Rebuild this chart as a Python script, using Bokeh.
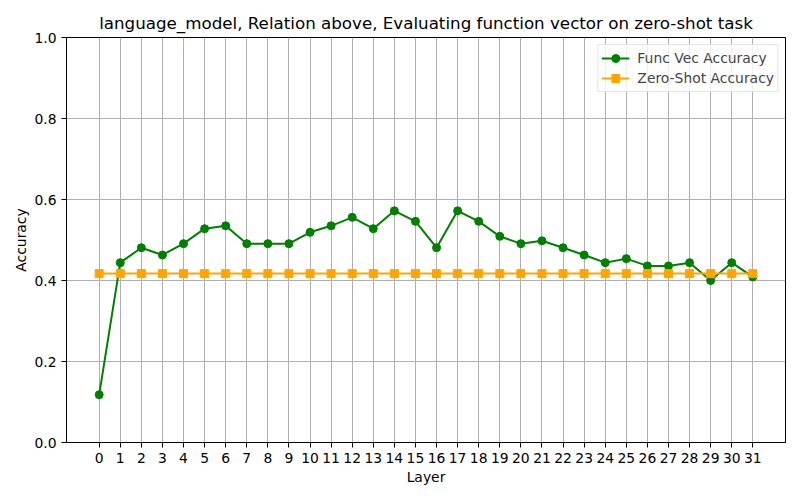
from bokeh.plotting import figure
from bokeh.embed import file_html
from bokeh.resources import INLINE
from bokeh.models import FixedTicker, Range1d, Legend, LegendItem, PrintfTickFormatter

layers = list(range(32))
func_vec_acc = [0.118, 0.444, 0.481, 0.463, 0.491, 0.528, 0.535, 0.491, 0.491, 0.491,
                0.519, 0.535, 0.556, 0.528, 0.572, 0.546, 0.481, 0.572, 0.546, 0.509,
                0.491, 0.498, 0.481, 0.463, 0.444, 0.454, 0.436, 0.436, 0.444, 0.400,
                0.444, 0.409]
zero_shot_acc = [0.417] * 32
y_ticks = [0.0, 0.2, 0.4, 0.6, 0.8, 1.0]

FONT = "DejaVu Sans"

p = figure(width=800, height=500, output_backend="svg", toolbar_location=None,
           x_range=Range1d(-1.55, 32.55), y_range=Range1d(0, 1),
           min_border_left=66, min_border_right=15, min_border_top=37, min_border_bottom=58,
           title="language_model, Relation above, Evaluating function vector on zero-shot task")

p.title.align = "center"
p.title.text_font = FONT
p.title.text_font_size = "16.7px"
p.title.text_font_style = "normal"
p.title.text_color = "black"
p.title.offset = 0

p.outline_line_color = "black"
p.outline_line_width = 1
p.outline_line_alpha = 1

for ax in (p.xaxis[0], p.yaxis[0]):
    ax.major_label_text_font = FONT
    ax.major_label_text_font_size = "13.9px"
    ax.major_label_text_color = "black"
    ax.axis_label_text_font = FONT
    ax.axis_label_text_font_size = "13.9px"
    ax.axis_label_text_font_style = "normal"
    ax.axis_label_text_color = "black"
    ax.major_tick_out = 5
    ax.major_tick_in = 0
    ax.minor_tick_line_color = None
    ax.axis_line_color = "black"
    ax.major_tick_line_color = "black"

p.xaxis.axis_label_standoff = 3
p.yaxis.axis_label_standoff = 2

p.xaxis.ticker = FixedTicker(ticks=layers)
p.yaxis.ticker = FixedTicker(ticks=y_ticks)
p.yaxis.formatter = PrintfTickFormatter(format="%.1f")
p.xaxis.axis_label = "Layer"
p.yaxis.axis_label = "Accuracy"

p.xgrid.ticker = FixedTicker(ticks=layers)
p.ygrid.ticker = FixedTicker(ticks=y_ticks)
for g in (p.xgrid[0], p.ygrid[0]):
    g.grid_line_color = "#b0b0b0"
    g.grid_line_width = 1

l1 = p.line(layers, func_vec_acc, line_color="green", line_width=2)
m1 = p.scatter(layers, func_vec_acc, marker="circle", size=8, fill_color="green", line_color="green")
l2 = p.line(layers, zero_shot_acc, line_color="orange", line_width=2)
m2 = p.scatter(layers, zero_shot_acc, marker="square", size=8, fill_color="orange", line_color="orange")

legend = Legend(items=[LegendItem(label="Func Vec Accuracy", renderers=[l1, m1]),
                       LegendItem(label="Zero-Shot Accuracy", renderers=[l2, m2])],
                location="top_right")
legend.label_text_font = FONT
legend.label_text_font_size = "13.9px"
legend.border_line_color = "#cccccc"
legend.border_line_width = 1
legend.background_fill_alpha = 0.8
legend.margin = 7
legend.padding = 3
legend.spacing = 0
legend.glyph_width = 28
legend.glyph_height = 20
legend.label_height = 20
legend.label_standoff = 8
p.add_layout(legend)

open("out.html", "w").write(file_html(p, INLINE))
